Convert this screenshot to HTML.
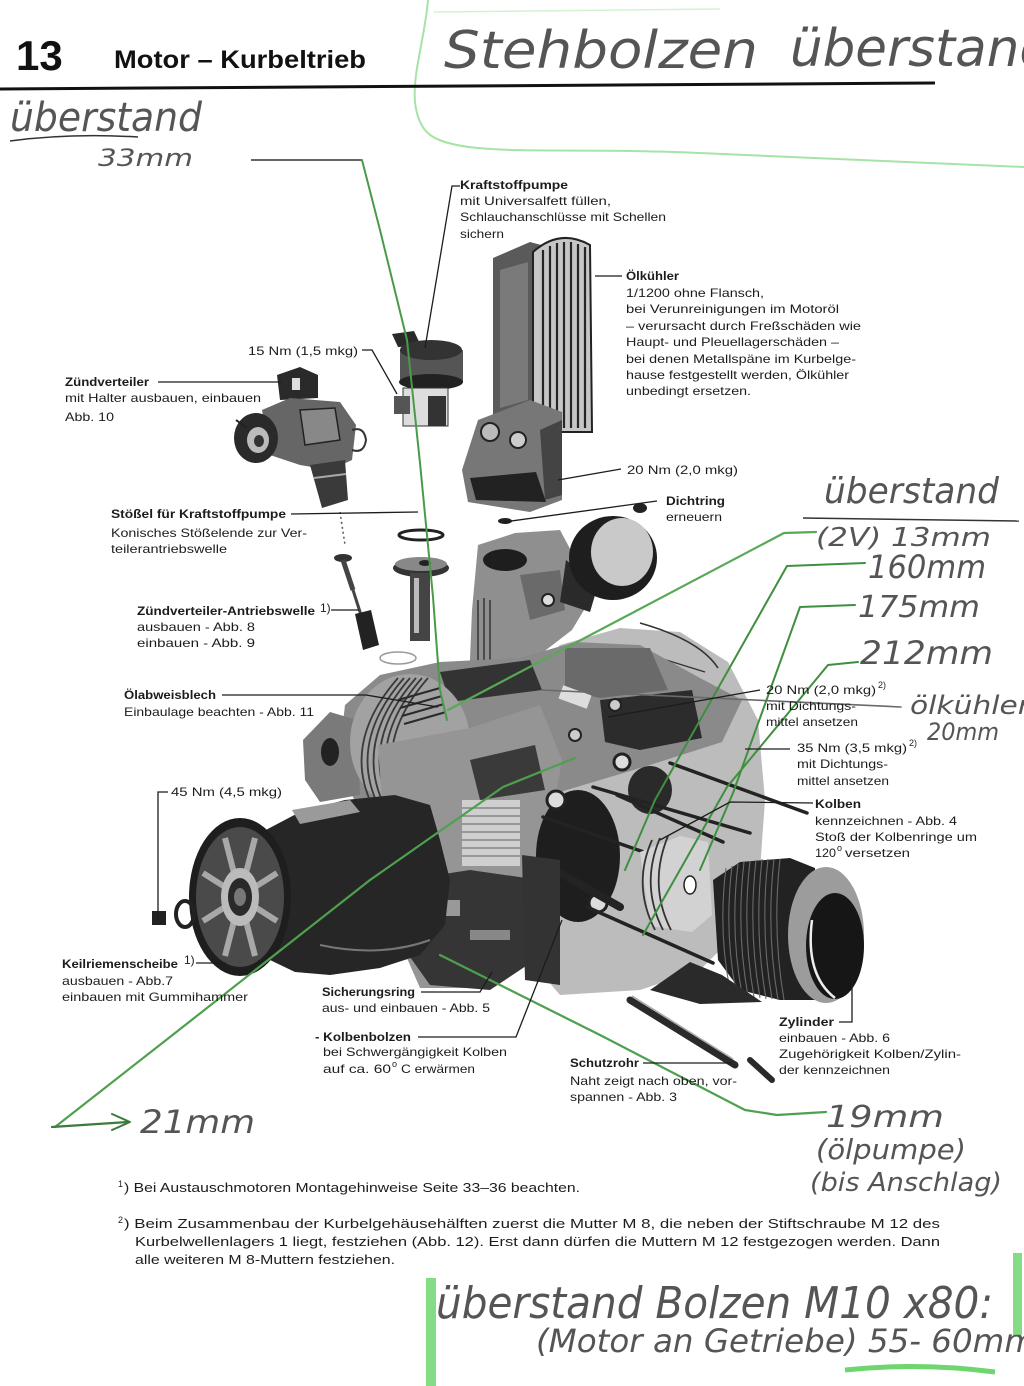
<!DOCTYPE html>
<html><head><meta charset="utf-8">
<style>
html,body{margin:0;padding:0;background:#fff;}
svg{display:block;}
.t{font-family:"Liberation Sans",sans-serif;font-size:12px;fill:#1c1c1c;}
.b{font-weight:bold;}
.s{font-family:"Liberation Sans",sans-serif;font-size:9px;fill:#1c1c1c;}
.f{font-family:"Liberation Sans",sans-serif;font-size:13px;fill:#1c1c1c;}
.h{font-family:"DejaVu Sans","Liberation Sans",sans-serif;font-weight:200;font-style:italic;fill:#555;}
</style></head><body>
<svg width="1024" height="1386" viewBox="0 0 1024 1386" xmlns="http://www.w3.org/2000/svg">
<rect width="1024" height="1386" fill="#fff"/>

<!-- light green outline top -->
<path d="M428 0 C424 50 402 100 425 130 S560 146 700 153 S900 161 1024 167" fill="none" stroke="#a6e3a6" stroke-width="2"/>
<path d="M434 12 L720 9" stroke="#d2f2d2" stroke-width="1.5"/>

<!-- header -->
<text x="16" y="70" style="font-family:'Liberation Sans',sans-serif;font-size:42px;font-weight:bold;fill:#111">13</text>
<text x="114" y="68" textLength="252" lengthAdjust="spacingAndGlyphs" style="font-family:'Liberation Sans',sans-serif;font-size:25px;font-weight:bold;fill:#111">Motor – Kurbeltrieb</text>
<line x1="0" y1="89" x2="935" y2="83" stroke="#111" stroke-width="3"/>

<!-- handwriting top -->
<text class="h" x="444" y="68" font-size="52" textLength="314" lengthAdjust="spacingAndGlyphs">Stehbolzen</text>
<text class="h" x="790" y="66" font-size="52" textLength="262" lengthAdjust="spacingAndGlyphs">überstand</text>
<text class="h" x="10" y="131" font-size="40" textLength="192" lengthAdjust="spacingAndGlyphs">überstand</text>
<path d="M10 141 Q70 133 138 137" fill="none" stroke="#333" stroke-width="1.5"/>
<text class="h" x="98" y="166" font-size="24" textLength="95" lengthAdjust="spacingAndGlyphs">33mm</text>
<line x1="251" y1="160" x2="362" y2="160" stroke="#333" stroke-width="1.6"/>

<!-- ================= ENGINE ================= -->
<g id="engine">
<!-- oil cooler -->
<polygon points="493,258 530,242 545,246 545,410 493,422" fill="#5a5a5a"/>
<polygon points="500,270 528,262 528,400 500,408" fill="#7a7a7a"/>
<path d="M533 252 Q560 228 590 245 L592 432 L533 432 Z" fill="#c6c6c6" stroke="#222" stroke-width="2"/>
<g stroke="#262626" stroke-width="2.2">
<line x1="543" y1="250" x2="543" y2="428"/><line x1="550" y1="246" x2="550" y2="428"/>
<line x1="557" y1="243" x2="557" y2="428"/><line x1="564" y1="242" x2="564" y2="428"/>
<line x1="571" y1="242" x2="571" y2="428"/><line x1="578" y1="244" x2="578" y2="428"/>
<line x1="585" y1="247" x2="585" y2="428"/>
</g>
<polygon points="462,470 478,420 530,400 562,412 562,500 530,512 468,502" fill="#777"/>
<polygon points="470,478 536,472 546,502 476,500" fill="#222"/>
<circle cx="490" cy="432" r="9" fill="#bbb" stroke="#222" stroke-width="2"/>
<circle cx="518" cy="440" r="8" fill="#ccc" stroke="#222" stroke-width="2"/>
<polygon points="540,430 562,420 562,495 545,500" fill="#444"/>
<ellipse cx="505" cy="521" rx="7" ry="3" fill="#222"/>

<!-- fuel pump -->
<polygon points="392,334 414,331 421,346 398,347" fill="#2a2a2a"/>
<rect x="400" y="350" width="63" height="32" fill="#555"/>
<ellipse cx="431" cy="350" rx="31" ry="10" fill="#333"/>
<ellipse cx="431" cy="382" rx="32" ry="8" fill="#222"/>
<rect x="403" y="388" width="45" height="38" fill="#ddd" stroke="#333" stroke-width="1"/>
<rect x="428" y="396" width="18" height="30" fill="#333"/>
<rect x="394" y="396" width="16" height="18" fill="#555"/>

<!-- distributor -->
<polygon points="277,375 300,367 318,375 318,398 280,400" fill="#2a2a2a"/>
<rect x="292" y="378" width="8" height="12" fill="#ddd"/>
<polygon points="262,410 290,398 340,402 356,425 352,460 330,470 300,465 270,455" fill="#666"/>
<polygon points="300,410 335,408 340,440 305,445" fill="#888" stroke="#222" stroke-width="1.5"/>
<ellipse cx="256" cy="438" rx="22" ry="25" fill="#2a2a2a"/>
<ellipse cx="258" cy="440" rx="11" ry="13" fill="#bbb"/>
<ellipse cx="259" cy="441" rx="5" ry="6" fill="#333"/>
<polygon points="310,465 345,460 348,500 322,508" fill="#3a3a3a"/>
<line x1="314" y1="478" x2="346" y2="474" stroke="#aaa" stroke-width="2"/>
<line x1="236" y1="420" x2="247" y2="428" stroke="#222" stroke-width="2"/>
<path d="M352 430 q12 -4 14 10 q-2 14 -14 10" fill="none" stroke="#333" stroke-width="2"/>

<!-- small parts -->
<ellipse cx="421" cy="535" rx="22" ry="5" fill="none" stroke="#222" stroke-width="3"/>
<ellipse cx="421" cy="568" rx="28" ry="9" fill="#333"/>
<ellipse cx="421" cy="564" rx="26" ry="7" fill="#888"/>
<ellipse cx="425" cy="563" rx="6" ry="3" fill="#222"/>
<rect x="410" y="573" width="20" height="68" fill="#444"/>
<rect x="414" y="578" width="5" height="55" fill="#bbb"/>
<line x1="340" y1="512" x2="345" y2="545" stroke="#555" stroke-width="1.5" stroke-dasharray="2,3"/>
<ellipse cx="343" cy="558" rx="9" ry="4" fill="#333"/>
<line x1="343" y1="560" x2="353" y2="590" stroke="#444" stroke-width="5"/>
<line x1="353" y1="590" x2="361" y2="615" stroke="#444" stroke-width="3"/>
<polygon points="355,614 371,610 379,645 363,650" fill="#222"/>
<ellipse cx="398" cy="658" rx="18" ry="6" fill="none" stroke="#999" stroke-width="1.5"/>

<!-- oil filler tower -->
<polygon points="478,545 515,533 560,530 576,560 590,600 572,630 546,650 540,668 520,682 480,686 470,660 472,610" fill="#8f8f8f"/>
<ellipse cx="505" cy="560" rx="22" ry="11" fill="#1e1e1e"/>
<polygon points="520,575 560,570 565,610 530,620" fill="#6a6a6a"/>
<g stroke="#333" stroke-width="1.5">
<line x1="478" y1="600" x2="478" y2="680"/><line x1="484" y1="598" x2="484" y2="680"/><line x1="490" y1="600" x2="490" y2="676"/>
</g>
<circle cx="548" cy="600" r="6" fill="#ddd" stroke="#222" stroke-width="2"/>
<polygon points="566,560 598,585 590,612 560,602" fill="#2a2a2a"/>
<ellipse cx="613" cy="558" rx="44" ry="42" fill="#1e1e1e"/>
<ellipse cx="622" cy="552" rx="31" ry="34" fill="#c9c9c9"/>
<ellipse cx="640" cy="508" rx="7" ry="5" fill="#222"/>

<!-- right crankcase plate -->
<polygon points="520,690 560,645 620,628 680,632 728,662 758,720 765,800 760,870 740,930 700,970 640,990 560,995 530,960 525,850" fill="#bcbcbc"/>
<path d="M640 623 Q700 640 718 668" fill="none" stroke="#333" stroke-width="1.6"/>
<line x1="650" y1="655" x2="705" y2="672" stroke="#333" stroke-width="1.4"/>
<!-- upper engine mass -->
<polygon points="345,705 380,675 440,662 520,658 575,642 640,645 700,678 742,700 722,742 650,765 560,792 540,800 530,765 470,765 420,800 360,812 338,765" fill="#8a8a8a"/>
<polygon points="565,648 650,648 668,690 600,698 565,690" fill="#6a6a6a"/>
<polygon points="600,700 692,690 702,738 640,750 605,742" fill="#2c2c2c"/>
<polygon points="440,672 530,660 542,690 450,702" fill="#333"/>
<rect x="560" y="690" width="30" height="14" fill="#ddd" transform="rotate(20 575 697)"/>
<circle cx="615" cy="705" r="6" fill="#ccc" stroke="#222" stroke-width="2"/>
<circle cx="575" cy="735" r="6" fill="#ccc" stroke="#222" stroke-width="2"/>
<!-- left small part -->
<polygon points="303,740 330,712 357,720 360,795 320,802 305,780" fill="#7a7a7a"/>
<ellipse cx="330" cy="752" rx="9" ry="14" fill="#222"/>
<!-- ribbed drum -->
<ellipse cx="410" cy="742" rx="60" ry="68" fill="#a2a2a2"/>
<g fill="none" stroke="#3a3a3a" stroke-width="1.8">
<path d="M372 805 Q342 742 398 678"/><path d="M378 805 Q348 742 404 678"/><path d="M384 805 Q354 742 410 678"/>
<path d="M390 805 Q360 742 416 678"/><path d="M396 805 Q366 742 422 678"/><path d="M402 805 Q372 742 428 678"/>
</g>
<g stroke="#2a2a2a" stroke-width="2">
<line x1="398" y1="700" x2="440" y2="688"/><line x1="400" y1="708" x2="442" y2="696"/><line x1="402" y1="716" x2="444" y2="704"/><line x1="404" y1="724" x2="446" y2="712"/>
</g>
<!-- central crankcase -->
<polygon points="378,745 470,728 540,705 562,760 548,840 540,905 530,962 480,988 420,988 400,942 386,860" fill="#959595"/>
<rect x="462" y="800" width="58" height="66" fill="#cfcfcf"/>
<g stroke="#777" stroke-width="1.2">
<line x1="462" y1="808" x2="520" y2="808"/><line x1="462" y1="816" x2="520" y2="816"/><line x1="462" y1="824" x2="520" y2="824"/>
<line x1="462" y1="832" x2="520" y2="832"/><line x1="462" y1="840" x2="520" y2="840"/><line x1="462" y1="848" x2="520" y2="848"/><line x1="462" y1="856" x2="520" y2="856"/>
</g>
<polygon points="470,760 535,745 545,790 480,800" fill="#3a3a3a"/>
<circle cx="403" cy="833" r="20" fill="#ddd" stroke="#222" stroke-width="4"/>
<circle cx="403" cy="833" r="8" fill="#222"/>
<polygon points="405,880 470,870 540,880 535,960 490,990 430,985 405,950" fill="#353535"/>
<rect x="430" y="900" width="30" height="16" fill="#999"/>
<rect x="470" y="930" width="40" height="10" fill="#888"/>
<!-- right bores -->
<ellipse cx="578" cy="856" rx="42" ry="66" fill="#1e1e1e"/>
<ellipse cx="650" cy="790" rx="22" ry="24" fill="#2a2a2a"/>
<circle cx="556" cy="800" r="9" fill="#ddd" stroke="#222" stroke-width="3"/>
<circle cx="622" cy="762" r="8" fill="#ddd" stroke="#222" stroke-width="3"/>
<circle cx="598" cy="903" r="9" fill="#ddd" stroke="#222" stroke-width="3"/>
<!-- studs -->
<g stroke="#232323" stroke-linecap="round">
<line x1="670" y1="763" x2="807" y2="813" stroke-width="3.5"/>
<line x1="593" y1="787" x2="750" y2="833" stroke-width="3.5"/>
<line x1="617" y1="795" x2="723" y2="842" stroke-width="3.5"/>
<line x1="543" y1="817" x2="687" y2="867" stroke-width="3.5"/>
<line x1="587" y1="907" x2="713" y2="963" stroke-width="3.5"/>
<line x1="560" y1="873" x2="620" y2="907" stroke-width="8"/>
</g>
<!-- piston -->
<polygon points="640,852 680,836 708,842 712,915 692,932 650,926" fill="#d2d2d2"/>
<g fill="none" stroke="#333" stroke-width="1.8">
<path d="M652 840 Q632 885 655 930"/><path d="M660 838 Q640 885 663 930"/><path d="M668 836 Q648 885 671 930"/>
</g>
<ellipse cx="690" cy="885" rx="6" ry="9" fill="#fff" stroke="#222" stroke-width="1.5"/>
<!-- cylinder -->
<polygon points="713,880 740,862 790,858 815,868 815,1000 780,1000 740,990 718,960" fill="#222"/>
<g fill="none" stroke="#6a6a6a" stroke-width="1.1">
<path d="M726 868 Q718 930 730 990"/><path d="M732 866 Q724 930 736 992"/><path d="M738 864 Q730 930 742 994"/>
<path d="M744 862 Q736 930 748 996"/><path d="M750 861 Q742 930 754 997"/><path d="M756 860 Q748 930 760 998"/>
<path d="M762 859 Q754 930 766 999"/><path d="M768 859 Q760 930 772 999"/><path d="M774 859 Q766 930 778 1000"/>
<path d="M780 859 Q772 930 784 1000"/>
</g>
<ellipse cx="826" cy="935" rx="38" ry="68" fill="#9c9c9c"/>
<ellipse cx="835" cy="946" rx="29" ry="53" fill="#161616"/>
<path d="M812 920 Q805 975 835 998" fill="none" stroke="#eee" stroke-width="2.5"/>
<!-- lower parts -->
<polygon points="650,990 690,962 722,975 762,1002 700,1004" fill="#2a2a2a"/>
<polygon points="522,855 560,860 560,985 525,980" fill="#333"/>
<line x1="630" y1="1000" x2="735" y2="1065" stroke="#2a2a2a" stroke-width="7" stroke-linecap="round"/>
<line x1="632" y1="996" x2="733" y2="1059" stroke="#aaa" stroke-width="1.5"/>
<line x1="750" y1="1060" x2="772" y2="1080" stroke="#2a2a2a" stroke-width="6" stroke-linecap="round"/>
<!-- fan housing -->
<polygon points="262,832 300,812 345,800 395,795 430,805 440,840 450,880 445,925 420,955 380,968 330,975 295,972 270,960" fill="#262626"/>
<polygon points="292,810 350,800 360,812 300,824" fill="#9a9a9a"/>
<path d="M320 945 Q380 958 430 940" fill="none" stroke="#777" stroke-width="2"/>
<!-- pulley -->
<ellipse cx="240" cy="897" rx="51" ry="79" fill="#1e1e1e"/>
<ellipse cx="240" cy="897" rx="44" ry="70" fill="#4a4a4a"/>
<g stroke="#a8a8a8" stroke-width="6">
<line x1="255" y1="907" x2="277" y2="921"/><line x1="246" y1="921" x2="255" y2="956"/>
<line x1="234" y1="921" x2="225" y2="956"/><line x1="225" y1="907" x2="203" y2="921"/>
<line x1="225" y1="887" x2="203" y2="873"/><line x1="234" y1="873" x2="225" y2="838"/>
<line x1="246" y1="873" x2="255" y2="838"/><line x1="255" y1="887" x2="277" y2="873"/>
</g>
<ellipse cx="240" cy="897" rx="19" ry="29" fill="#bbb"/>
<ellipse cx="240" cy="897" rx="12" ry="19" fill="#2a2a2a"/>
<ellipse cx="240" cy="897" rx="6" ry="9" fill="#777"/>
<ellipse cx="185" cy="914" rx="9" ry="13" fill="none" stroke="#222" stroke-width="4"/>
<rect x="152" y="911" width="14" height="14" fill="#222"/>
</g>

<!-- ================= GREEN / GRAY ANNOTATION LINES ================= -->
<g fill="none" stroke-linecap="round" stroke-linejoin="round">
<polyline points="362,160 380,230 407,340 420,463 433,597 440,690 447,720" stroke="#4a9a4a" stroke-width="2"/>
<polyline points="816,532 784,533 448,710" stroke="#58a858" stroke-width="2.2"/>
<polyline points="865,563 787,566 655,800 625,870" stroke="#3f8f3f" stroke-width="2"/>
<polyline points="855,605 800,607 733,793 700,870" stroke="#3f8f3f" stroke-width="2"/>
<polyline points="858,662 828,665 727,787 643,935" stroke="#3f8f3f" stroke-width="2"/>
<polyline points="55,1127 170,1037 370,880 503,787 575,758" stroke="#4ea04e" stroke-width="2.2"/>
<polyline points="826,1112 777,1115 745,1110 600,1035 470,970 440,955" stroke="#4ea04e" stroke-width="2.2"/>
<polyline points="52,1127 128,1122" stroke="#3d7a3d" stroke-width="2.2"/>
<polyline points="112,1114 130,1122 112,1130" stroke="#3d7a3d" stroke-width="2"/>
<line x1="542" y1="690" x2="901" y2="707" stroke="#6a6a6a" stroke-width="1.6"/>
</g>

<!-- leader lines -->
<g stroke="#1c1c1c" stroke-width="1.3" fill="none">
<polyline points="460,186 452,186 425,348"/>
<line x1="595" y1="276" x2="622" y2="276"/>
<polyline points="362,350 372,350 397,394"/>
<line x1="158" y1="382" x2="281" y2="382"/>
<line x1="558" y1="480" x2="621" y2="469"/>
<line x1="504" y1="522" x2="657" y2="501"/>
<line x1="291" y1="514" x2="418" y2="512"/>
<line x1="331" y1="610" x2="359" y2="610"/>
<polyline points="222,695 366,695 438,707"/>
<line x1="760" y1="690" x2="608" y2="717"/>
<line x1="745" y1="749" x2="790" y2="749"/>
<polyline points="813,803 730,802 660,840"/>
<polyline points="168,792 158,792 158,918"/>
<line x1="196" y1="963" x2="226" y2="963"/>
<polyline points="421,992 480,992 492,972"/>
<polyline points="418,1037 516,1037 562,920"/>
<line x1="643" y1="1063" x2="731" y2="1063"/>
<polyline points="839,1022 852,1022 852,980"/>
</g>

<!-- ================= LABELS ================= -->
<text class="t b" x="460" y="189" textLength="108" lengthAdjust="spacingAndGlyphs">Kraftstoffpumpe</text>
<text class="t" x="460" y="205" textLength="151" lengthAdjust="spacingAndGlyphs">mit Universalfett füllen,</text>
<text class="t" x="460" y="221" textLength="206" lengthAdjust="spacingAndGlyphs">Schlauchanschlüsse mit Schellen</text>
<text class="t" x="460" y="238" textLength="44" lengthAdjust="spacingAndGlyphs">sichern</text>

<text class="t b" x="626" y="280" textLength="53" lengthAdjust="spacingAndGlyphs">Ölkühler</text>
<text class="t" x="626" y="297" textLength="138" lengthAdjust="spacingAndGlyphs">1/1200 ohne Flansch,</text>
<text class="t" x="626" y="313" textLength="213" lengthAdjust="spacingAndGlyphs">bei Verunreinigungen im Motoröl</text>
<text class="t" x="626" y="330" textLength="235" lengthAdjust="spacingAndGlyphs">– verursacht durch Freßschäden wie</text>
<text class="t" x="626" y="346" textLength="213" lengthAdjust="spacingAndGlyphs">Haupt- und Pleuellagerschäden –</text>
<text class="t" x="626" y="363" textLength="230" lengthAdjust="spacingAndGlyphs">bei denen Metallspäne im Kurbelge-</text>
<text class="t" x="626" y="379" textLength="223" lengthAdjust="spacingAndGlyphs">hause festgestellt werden, Ölkühler</text>
<text class="t" x="626" y="395" textLength="125" lengthAdjust="spacingAndGlyphs">unbedingt ersetzen.</text>

<text class="t" x="248" y="355" textLength="110" lengthAdjust="spacingAndGlyphs">15 Nm (1,5 mkg)</text>
<text class="t b" x="65" y="386" textLength="84" lengthAdjust="spacingAndGlyphs">Zündverteiler</text>
<text class="t" x="65" y="402" textLength="196" lengthAdjust="spacingAndGlyphs">mit Halter ausbauen, einbauen</text>
<text class="t" x="65" y="421" textLength="49" lengthAdjust="spacingAndGlyphs">Abb. 10</text>

<text class="t" x="627" y="474" textLength="111" lengthAdjust="spacingAndGlyphs">20 Nm (2,0 mkg)</text>
<text class="t b" x="666" y="505" textLength="59" lengthAdjust="spacingAndGlyphs">Dichtring</text>
<text class="t" x="666" y="521" textLength="56" lengthAdjust="spacingAndGlyphs">erneuern</text>

<text class="t b" x="111" y="518" textLength="175" lengthAdjust="spacingAndGlyphs">Stößel für Kraftstoffpumpe</text>
<text class="t" x="111" y="537" textLength="196" lengthAdjust="spacingAndGlyphs">Konisches Stößelende zur Ver-</text>
<text class="t" x="111" y="553" textLength="116" lengthAdjust="spacingAndGlyphs">teilerantriebswelle</text>

<text class="t b" x="137" y="615" textLength="178" lengthAdjust="spacingAndGlyphs">Zündverteiler-Antriebswelle</text>
<text class="t" x="320" y="612" font-size="11">1)</text>
<text class="t" x="137" y="631" textLength="118" lengthAdjust="spacingAndGlyphs">ausbauen  - Abb. 8</text>
<text class="t" x="137" y="647" textLength="118" lengthAdjust="spacingAndGlyphs">einbauen  - Abb. 9</text>

<text class="t b" x="124" y="699" textLength="92" lengthAdjust="spacingAndGlyphs">Ölabweisblech</text>
<text class="t" x="124" y="716" textLength="190" lengthAdjust="spacingAndGlyphs">Einbaulage beachten - Abb. 11</text>

<text class="t" x="766" y="694" textLength="110" lengthAdjust="spacingAndGlyphs">20 Nm (2,0 mkg)</text>
<text class="s" x="878" y="688">2)</text>
<text class="t" x="766" y="710" textLength="90" lengthAdjust="spacingAndGlyphs">mit Dichtungs-</text>
<text class="t" x="766" y="726" textLength="92" lengthAdjust="spacingAndGlyphs">mittel ansetzen</text>

<text class="t" x="797" y="752" textLength="110" lengthAdjust="spacingAndGlyphs">35 Nm (3,5 mkg)</text>
<text class="s" x="909" y="746">2)</text>
<text class="t" x="797" y="768" textLength="91" lengthAdjust="spacingAndGlyphs">mit Dichtungs-</text>
<text class="t" x="797" y="785" textLength="92" lengthAdjust="spacingAndGlyphs">mittel ansetzen</text>

<text class="t b" x="815" y="808" textLength="46" lengthAdjust="spacingAndGlyphs">Kolben</text>
<text class="t" x="815" y="825" textLength="142" lengthAdjust="spacingAndGlyphs">kennzeichnen - Abb. 4</text>
<text class="t" x="815" y="841" textLength="162" lengthAdjust="spacingAndGlyphs">Stoß der Kolbenringe um</text>
<text class="t" x="815" y="857" textLength="21" lengthAdjust="spacingAndGlyphs">120</text>
<text class="s" x="837" y="851">o</text>
<text class="t" x="845" y="857" textLength="65" lengthAdjust="spacingAndGlyphs">versetzen</text>

<text class="t" x="171" y="796" textLength="111" lengthAdjust="spacingAndGlyphs">45 Nm (4,5 mkg)</text>

<text class="t b" x="62" y="968" textLength="116" lengthAdjust="spacingAndGlyphs">Keilriemenscheibe</text>
<text class="t" x="184" y="964" font-size="11">1)</text>
<text class="t" x="62" y="985" textLength="111" lengthAdjust="spacingAndGlyphs">ausbauen - Abb.7</text>
<text class="t" x="62" y="1001" textLength="186" lengthAdjust="spacingAndGlyphs">einbauen mit Gummihammer</text>

<text class="t b" x="322" y="996" textLength="93" lengthAdjust="spacingAndGlyphs">Sicherungsring</text>
<text class="t" x="322" y="1012" textLength="168" lengthAdjust="spacingAndGlyphs">aus- und einbauen - Abb. 5</text>

<text class="t b" x="315" y="1041" textLength="96" lengthAdjust="spacingAndGlyphs">- Kolbenbolzen</text>
<text class="t" x="323" y="1056" textLength="184" lengthAdjust="spacingAndGlyphs">bei Schwergängigkeit Kolben</text>
<text class="t" x="323" y="1073" textLength="68" lengthAdjust="spacingAndGlyphs">auf ca. 60</text>
<text class="s" x="392" y="1067">o</text>
<text class="t" x="401" y="1073" textLength="74" lengthAdjust="spacingAndGlyphs">C erwärmen</text>

<text class="t b" x="570" y="1067" textLength="69" lengthAdjust="spacingAndGlyphs">Schutzrohr</text>
<text class="t" x="570" y="1085" textLength="167" lengthAdjust="spacingAndGlyphs">Naht zeigt nach oben, vor-</text>
<text class="t" x="570" y="1101" textLength="107" lengthAdjust="spacingAndGlyphs">spannen - Abb. 3</text>

<text class="t b" x="779" y="1026" textLength="55" lengthAdjust="spacingAndGlyphs">Zylinder</text>
<text class="t" x="779" y="1042" textLength="111" lengthAdjust="spacingAndGlyphs">einbauen - Abb. 6</text>
<text class="t" x="779" y="1058" textLength="182" lengthAdjust="spacingAndGlyphs">Zugehörigkeit Kolben/Zylin-</text>
<text class="t" x="779" y="1074" textLength="111" lengthAdjust="spacingAndGlyphs">der kennzeichnen</text>

<!-- footnotes -->
<text class="s" x="118" y="1187">1</text>
<text class="f" x="124" y="1192" textLength="456" lengthAdjust="spacingAndGlyphs">) Bei Austauschmotoren Montagehinweise Seite 33–36 beachten.</text>
<text class="s" x="118" y="1223">2</text>
<text class="f" x="124" y="1228" textLength="816" lengthAdjust="spacingAndGlyphs">) Beim Zusammenbau der Kurbelgehäusehälften zuerst die Mutter M 8, die neben der Stiftschraube M 12 des</text>
<text class="f" x="135" y="1246" textLength="805" lengthAdjust="spacingAndGlyphs">Kurbelwellenlagers 1 liegt, festziehen (Abb. 12). Erst dann dürfen die Muttern M 12 festgezogen werden. Dann</text>
<text class="f" x="135" y="1264" textLength="260" lengthAdjust="spacingAndGlyphs">alle weiteren M 8-Muttern festziehen.</text>

<!-- handwriting right / bottom -->
<text class="h" x="824" y="503" font-size="36" textLength="175" lengthAdjust="spacingAndGlyphs">überstand</text>
<line x1="803" y1="518" x2="1019" y2="521" stroke="#333" stroke-width="1.5"/>
<text class="h" x="816" y="546" font-size="26" textLength="175" lengthAdjust="spacingAndGlyphs">(2V) 13mm</text>
<text class="h" x="868" y="578" font-size="32" textLength="118" lengthAdjust="spacingAndGlyphs">160mm</text>
<text class="h" x="858" y="617" font-size="30" textLength="122" lengthAdjust="spacingAndGlyphs">175mm</text>
<text class="h" x="860" y="664" font-size="32" textLength="133" lengthAdjust="spacingAndGlyphs">212mm</text>
<text class="h" x="910" y="714" font-size="26" textLength="120" lengthAdjust="spacingAndGlyphs">ölkühler</text>
<text class="h" x="927" y="740" font-size="24" textLength="72" lengthAdjust="spacingAndGlyphs">20mm</text>
<text class="h" x="140" y="1133" font-size="32" textLength="115" lengthAdjust="spacingAndGlyphs">21mm</text>
<text class="h" x="826" y="1127" font-size="30" textLength="118" lengthAdjust="spacingAndGlyphs">19mm</text>
<text class="h" x="816" y="1159" font-size="28" textLength="150" lengthAdjust="spacingAndGlyphs">(ölpumpe)</text>
<text class="h" x="810" y="1191" font-size="26" textLength="192" lengthAdjust="spacingAndGlyphs">(bis Anschlag)</text>
<text class="h" x="436" y="1318" font-size="44" textLength="557" lengthAdjust="spacingAndGlyphs">überstand Bolzen M10 x80:</text>
<text class="h" x="536" y="1352" font-size="32" textLength="500" lengthAdjust="spacingAndGlyphs">(Motor an Getriebe) 55- 60mm</text>

<!-- highlighter marks -->
<rect x="426" y="1278" width="10" height="108" fill="#6fd66f" opacity="0.85"/>
<rect x="1013" y="1253" width="9" height="82" fill="#6fd66f" opacity="0.85"/>
<path d="M845 1370 Q920 1362 995 1372" fill="none" stroke="#6fd66f" stroke-width="5"/>
</svg>
</body></html>
